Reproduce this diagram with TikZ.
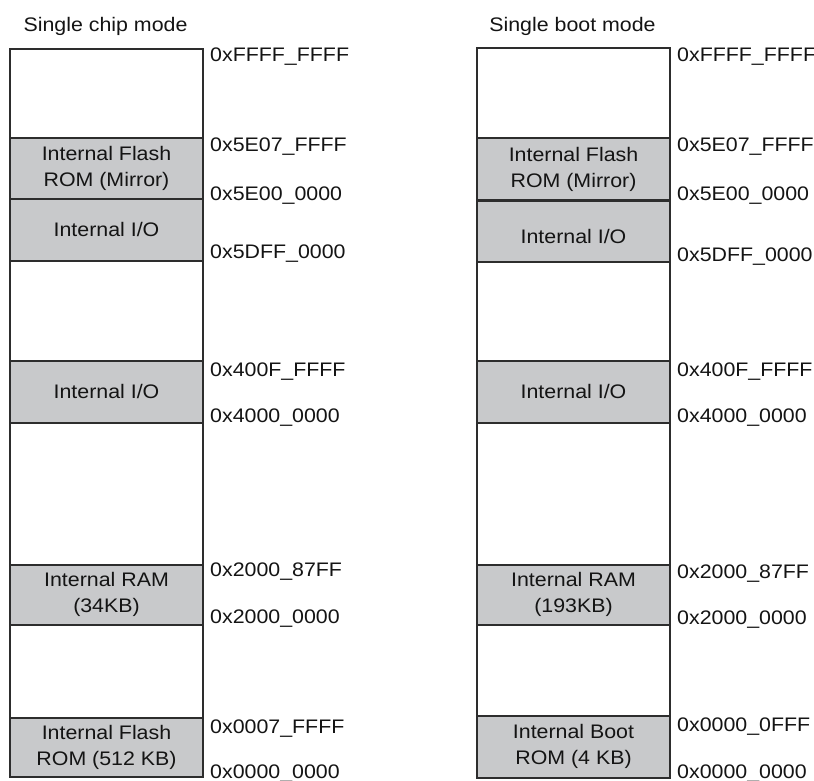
\documentclass[tikz,border=0pt]{standalone}
\usepackage{fontspec}
\setmainfont[FakeStretch=1.09]{Liberation Sans}
\definecolor{regfill}{RGB}{200,201,203}
\definecolor{edge}{RGB}{45,45,45}
\definecolor{ink}{RGB}{20,20,20}
\newcommand{\lblfont}{\fontsize{19.6}{26}\selectfont}
\begin{document}
\begin{tikzpicture}[x=1pt,y=-1pt,
  cell/.style={draw=edge, line width=2pt, minimum width=193pt, inner sep=0pt,
    align=center, text=ink, font=\lblfont, anchor=north west},
  graycell/.style={cell, fill=regfill},
  freecell/.style={cell, fill=white},
  boxtext/.style={inner sep=0pt, align=center, text=ink, font=\lblfont},
  addr/.style={anchor=base west, inner sep=0pt, text=ink, font=\lblfont},
  title/.style={anchor=base, inner sep=0pt, text=ink, font=\lblfont}]
\useasboundingbox (0,0) rectangle (814,780);

% ---------- Single chip mode ----------
\node[title] (tL) at (105.5,31) {Single chip mode};
\node[freecell, minimum height=89.5] (L0) at (9,47.5) {};
\node[graycell, minimum height=61]   (L1) at (9,137) {Internal Flash\\ROM (Mirror)};
\node[graycell, minimum height=61.5] (L2) at (9,198) {Internal I/O};
\node[freecell, minimum height=100.5] (L3) at (9,259.5) {};
\node[graycell, minimum height=61.5] (L4) at (9,360) {Internal I/O};
\node[freecell, minimum height=142]  (L5) at (9,421.5) {};
\node[graycell, minimum height=60]   (L6) at (9,563.5) {Internal RAM\\(34KB)};
\node[freecell, minimum height=93]   (L7) at (9,623.5) {};
\node[graycell, minimum height=59.5] (L8) at (9,716.5) {Internal Flash\\ROM (512 KB)};

\node[addr] (la0) at (210,61.7)  {0xFFFF\_FFFF};
\node[addr] (la1) at (210,151.7) {0x5E07\_FFFF};
\node[addr] (la2) at (210,200)   {0x5E00\_0000};
\node[addr] (la3) at (210,258.3) {0x5DFF\_0000};
\node[addr] (la4) at (210,376.7) {0x400F\_FFFF};
\node[addr] (la5) at (210,422.7) {0x4000\_0000};
\node[addr] (la6) at (210,576.7) {0x2000\_87FF};
\node[addr] (la7) at (210,623)   {0x2000\_0000};
\node[addr] (la8) at (210,733)   {0x0007\_FFFF};
\node[addr] (la9) at (210,778)   {0x0000\_0000};

% ---------- Single boot mode ----------
\node[title] (tR) at (572.5,31) {Single boot mode};
\node[freecell, minimum height=90.5] (R0) at (476,46.5) {};
\node[graycell, minimum height=62]   (R1) at (476,137) {Internal Flash\\ROM (Mirror)};
\node[graycell, minimum height=62]   (R2) at (476,199) {};
\node[boxtext] (R2t) at ([yshift=-5pt]R2.center) {Internal I/O};
\node[freecell, minimum height=99]   (R3) at (476,261) {};
\node[graycell, minimum height=61.5] (R4) at (476,360) {Internal I/O};
\node[freecell, minimum height=142]  (R5) at (476,421.5) {};
\node[graycell, minimum height=60.5] (R6) at (476,563.5) {Internal RAM\\(193KB)};
\node[freecell, minimum height=90.5] (R7) at (476,624) {};
\node[graycell, minimum height=62]   (R8) at (476,714.5) {Internal Boot\\ROM (4 KB)};
\draw[edge, line width=2.6pt] (R1.south west) -- (R1.south east);

\node[addr] (ra0) at (677,61.7)  {0xFFFF\_FFFF};
\node[addr] (ra1) at (677,151.7) {0x5E07\_FFFF};
\node[addr] (ra2) at (677,200)   {0x5E00\_0000};
\node[addr] (ra3) at (677,261.7) {0x5DFF\_0000};
\node[addr] (ra4) at (677,376.5) {0x400F\_FFFF};
\node[addr] (ra5) at (677,422.5) {0x4000\_0000};
\node[addr] (ra6) at (677,578)   {0x2000\_87FF};
\node[addr] (ra7) at (677,624)   {0x2000\_0000};
\node[addr] (ra8) at (677,731.7) {0x0000\_0FFF};
\node[addr] (ra9) at (677,778)   {0x0000\_0000};
\end{tikzpicture}
\end{document}
